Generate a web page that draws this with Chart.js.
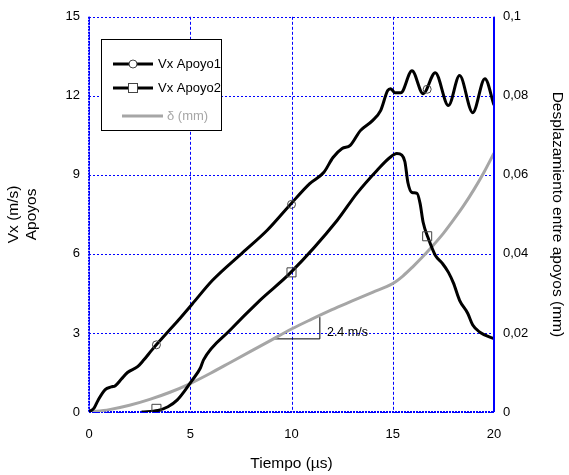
<!DOCTYPE html>
<html>
<head>
<meta charset="utf-8">
<script src="https://cdn.jsdelivr.net/npm/chart.js@4/dist/chart.umd.min.js"></script>
<style>
html,body{margin:0;padding:0;background:#fff;}
#wrap{width:569px;height:475px;position:relative;}
</style>
</head>
<body>
<div id="wrap"><canvas id="c" width="569" height="475"></canvas></div>
<script>
// ---- data ----
const t1 = [0, 0.25, 0.45, 0.8, 1.1, 1.3, 1.6, 1.9, 2.4, 2.7, 3.1, 3.4, 3.9, 4.5, 5.1, 6.1, 7.6, 8.8, 9.9, 10.9, 11.6, 12.05, 12.5, 12.9, 13.4, 14.0, 14.4, 14.75, 14.9, 15.1, 15.4, 15.95, 16.5, 17.1, 17.75, 18.3, 18.95, 19.55, 20.0];
const v1 = [0, 0.15, 0.45, 0.85, 0.95, 1.0, 1.25, 1.5, 1.72, 1.97, 2.35, 2.62, 3.05, 3.56, 4.1, 5.0, 6.06, 6.9, 7.84, 8.67, 9.1, 9.66, 10.0, 10.12, 10.68, 11.06, 11.44, 12.2, 12.27, 12.12, 12.12, 12.95, 12.08, 12.88, 11.63, 12.77, 11.36, 12.65, 11.65];

const t2 = [2.6, 3.4, 3.9, 4.35, 4.75, 5.1, 5.5, 5.65, 6.96, 8.44, 9.93, 12.25, 13.23, 14.22, 14.86, 15.2, 15.45, 15.6, 15.75, 15.95, 16.2, 16.35, 16.5, 16.75, 17.1, 17.45, 17.75, 18.0, 18.3, 18.7, 18.95, 19.3, 20.0];
const v2 = [0, 0.06, 0.2, 0.45, 0.83, 1.21, 1.67, 1.97, 3.1, 4.24, 5.27, 7.27, 8.3, 9.17, 9.66, 9.81, 9.75, 9.5, 8.7, 8.33, 8.3, 7.92, 7.2, 6.6, 5.95, 5.64, 5.3, 4.89, 4.24, 3.75, 3.3, 3.03, 2.78];

const tg = [0, 1, 2, 3, 4, 5, 6, 7, 8, 9, 10, 11, 12, 13, 14, 15, 15.5, 16, 16.5, 17, 17.5, 18, 18.5, 19, 19.5, 20];
const dg = [0, 0.0006, 0.0017, 0.0032, 0.005, 0.0072, 0.0098, 0.0126, 0.0154, 0.0182, 0.021, 0.0235, 0.0259, 0.0281, 0.0303, 0.0325, 0.0344, 0.0368, 0.0394, 0.0422, 0.0452, 0.0486, 0.0522, 0.0562, 0.0606, 0.0655];

const markT = [3.33, 10, 16.7];
const mark1 = [2.55, 7.88, 12.25];
const mark2 = [0.12, 5.3, 6.67];

const slopeT = [9.1, 11.4, 11.4];
const slopeD = [0.0185, 0.0185, 0.024];
const slopeLabel = '2.4 m/s';
const slopeLabelPos = [11.75, 0.0202];

const xTitle = 'Tiempo (\u00b5s)';
const yTitle = ['Vx (m/s)', 'Apoyos'];
const y2Title = 'Desplazamiento entre apoyos (mm)';
const names = ['Vx Apoyo1', 'Vx Apoyo2', '\u03b4 (mm)'];

const pts = (xs, ys) => xs.map((x, i) => ({x: x, y: ys[i]}));
const FONT = "'Liberation Sans', Arial, sans-serif";
const BLUE = '#0000ff';

const gridPlugin = {
  id: 'dotGrid',
  beforeDatasetsDraw(chart) {
    const ctx = chart.ctx, a = chart.chartArea;
    const xs = chart.scales.x, ys = chart.scales.y;
    ctx.save();
    ctx.strokeStyle = BLUE;
    ctx.lineWidth = 1;
    ctx.setLineDash([3, 2]);
    xs.ticks.forEach(t => {
      const px = Math.round(xs.getPixelForValue(t.value)) + 0.5;
      ctx.beginPath(); ctx.moveTo(px, a.top); ctx.lineTo(px, a.bottom); ctx.stroke();
    });
    ctx.setLineDash([2, 2]);
    ys.ticks.forEach(t => {
      const py = Math.round(ys.getPixelForValue(t.value)) + 0.5;
      ctx.beginPath(); ctx.moveTo(a.left, py); ctx.lineTo(a.right, py); ctx.stroke();
    });
    // frame
    ctx.lineWidth = 2;
    ctx.setLineDash([2, 1]);
    ctx.beginPath(); ctx.moveTo(a.left, a.top); ctx.lineTo(a.left, a.bottom); ctx.stroke();
    ctx.beginPath(); ctx.moveTo(a.left, a.bottom); ctx.lineTo(a.right, a.bottom); ctx.stroke();
    ctx.restore();
  }
};

const legendPlugin = {
  id: 'boxLegend',
  afterDatasetsDraw(chart) {
    const ctx = chart.ctx;
    ctx.save();
    ctx.fillStyle = '#fff';
    ctx.fillRect(101, 39, 120, 91);
    ctx.strokeStyle = '#000';
    ctx.lineWidth = 1;
    ctx.strokeRect(101.5, 39.5, 120, 91);
    ctx.font = '13px ' + FONT;
    ctx.textBaseline = 'middle';
    // entry 1
    ctx.strokeStyle = '#000'; ctx.lineWidth = 3;
    ctx.beginPath(); ctx.moveTo(113, 64); ctx.lineTo(153, 64); ctx.stroke();
    ctx.fillStyle = '#fff'; ctx.strokeStyle = '#444'; ctx.lineWidth = 1;
    ctx.beginPath(); ctx.arc(133, 64, 4, 0, Math.PI * 2); ctx.fill(); ctx.stroke();
    ctx.fillStyle = '#000'; ctx.fillText(names[0], 158, 64);
    // entry 2
    ctx.strokeStyle = '#000'; ctx.lineWidth = 3;
    ctx.beginPath(); ctx.moveTo(113, 88); ctx.lineTo(153, 88); ctx.stroke();
    ctx.fillStyle = '#fff'; ctx.strokeStyle = '#444'; ctx.lineWidth = 1;
    ctx.fillRect(128.5, 83.5, 9, 9); ctx.strokeRect(128.5, 83.5, 9, 9);
    ctx.fillStyle = '#000'; ctx.fillText(names[1], 158, 88);
    // entry 3
    ctx.strokeStyle = '#a6a6a6'; ctx.lineWidth = 3;
    ctx.beginPath(); ctx.moveTo(122, 116); ctx.lineTo(163, 116); ctx.stroke();
    ctx.fillStyle = '#a6a6a6'; ctx.fillText(names[2], 167, 116);
    ctx.restore();
  },
  afterDraw(chart) {
    const ctx = chart.ctx, a = chart.chartArea;
    const xs = chart.scales.x, y2 = chart.scales.y2;
    ctx.save();
    ctx.strokeStyle = BLUE; ctx.lineWidth = 2;
    ctx.beginPath(); ctx.moveTo(a.right, a.top); ctx.lineTo(a.right, a.bottom); ctx.stroke();
    ctx.font = '12.5px ' + FONT;
    ctx.fillStyle = '#000';
    ctx.textBaseline = 'middle';
    ctx.fillText(slopeLabel, xs.getPixelForValue(slopeLabelPos[0]), y2.getPixelForValue(slopeLabelPos[1]));
    ctx.restore();
  }
};

new Chart(document.getElementById('c'), {
  type: 'line',
  data: {
    datasets: [
      {label: names[0] + ' marks', data: pts(markT, mark1), showLine: false, pointStyle: 'circle', pointRadius: 4, borderColor: '#444', borderWidth: 1, backgroundColor: 'rgba(0,0,0,0)', yAxisID: 'y', order: 0},
      {label: names[1] + ' marks', data: pts(markT, mark2), showLine: false, pointStyle: 'rect', pointRadius: 6.4, borderColor: '#444', borderWidth: 1, backgroundColor: 'rgba(0,0,0,0)', yAxisID: 'y', order: 0},
      {label: names[0], data: pts(t1, v1), borderColor: '#000', borderWidth: 3, pointRadius: 0, cubicInterpolationMode: 'monotone', yAxisID: 'y', order: 1},
      {label: names[1], data: pts(t2, v2), borderColor: '#000', borderWidth: 3, pointRadius: 0, cubicInterpolationMode: 'monotone', yAxisID: 'y', order: 2},
      {label: names[2], data: pts(tg, dg), borderColor: '#a6a6a6', borderWidth: 3, pointRadius: 0, cubicInterpolationMode: 'monotone', yAxisID: 'y2', order: 3},
      {label: 'slope', data: pts(slopeT, slopeD), borderColor: '#000', borderWidth: 1, pointRadius: 0, tension: 0, yAxisID: 'y2', order: 4}
    ]
  },
  options: {
    responsive: false,
    animation: false,
    layout: {padding: {top: 16, left: 0, right: 0, bottom: 0}},
    plugins: {legend: {display: false}, tooltip: {enabled: false}},
    scales: {
      x: {
        type: 'linear', min: 0, max: 20,
        afterFit(s) { s.height = 63; },
        ticks: {stepSize: 5, padding: 15, color: '#000', font: {family: FONT, size: 13}},
        grid: {display: false, drawTicks: false},
        border: {display: false},
        title: {display: true, text: xTitle, color: '#000', font: {family: FONT, size: 15.5}, padding: {top: 0, bottom: 2}}
      },
      y: {
        type: 'linear', position: 'left', min: 0, max: 15,
        afterFit(s) { s.width = 89; },
        ticks: {stepSize: 3, padding: 9, color: '#000', font: {family: FONT, size: 13}},
        grid: {display: false, drawTicks: false},
        border: {display: false},
        title: {display: true, text: yTitle, color: '#000', font: {family: FONT, size: 15.5, lineHeight: 1.2}, padding: {top: 4, bottom: 0}}
      },
      y2: {
        type: 'linear', position: 'right', min: 0, max: 0.1,
        afterFit(s) { s.width = 75; },
        ticks: {stepSize: 0.02, padding: 9, color: '#000', font: {family: FONT, size: 13},
          callback: v => String(+(+v).toFixed(2)).replace('.', ',')},
        grid: {display: false, drawTicks: false},
        border: {display: false},
        title: {display: true, text: y2Title, color: '#000', font: {family: FONT, size: 15.5}, padding: {top: 2, bottom: 0}}
      }
    }
  },
  plugins: [gridPlugin, legendPlugin]
});
</script>
</body>
</html>
